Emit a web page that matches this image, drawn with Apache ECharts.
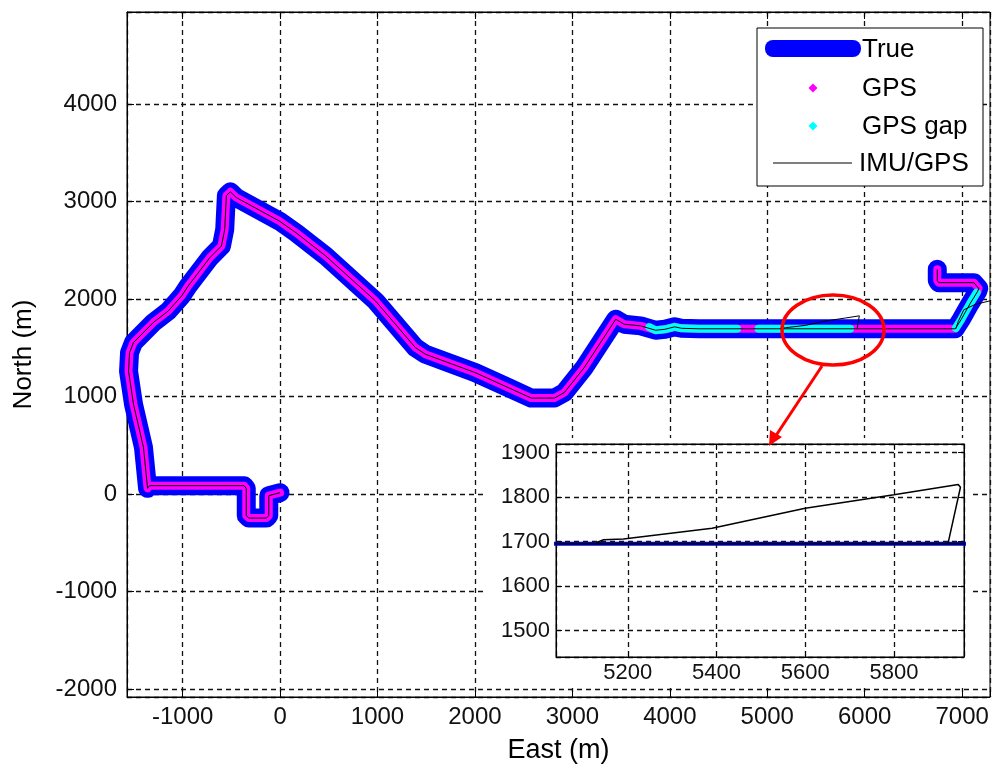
<!DOCTYPE html>
<html>
<head>
<meta charset="utf-8">
<script src="https://cdn.jsdelivr.net/npm/echarts@6/dist/echarts.min.js"></script>
<style>
  html, body { margin: 0; padding: 0; background: #fff; }
  #main { width: 993px; height: 769px; }
</style>
</head>
<body>
<div id="main"></div>
<script>
// true trajectory (m)
var trueEast = [0, -116, -116, -140, -320, -347, -347, -370, -1340, -1360, -1402, -1504, -1555, -1545, -1504, -1300, -1147, -1010, -943, -721, -602, -568, -551, -510, -449, -7, 163, 469, 980, 1388, 1490, 2000, 2340, 2578, 2816, 2918, 3122, 3445, 3531, 3701, 3854, 3950, 4050, 4120, 4300, 6930, 6990, 7080, 7160, 7170, 7120, 6760, 6745, 6745];
var trueNorth = [15, -15, -220, -245, -245, -220, 60, 87, 87, 60, 480, 920, 1260, 1450, 1554, 1760, 1878, 2032, 2134, 2424, 2543, 2714, 3060, 3099, 3040, 2799, 2680, 2441, 1980, 1503, 1435, 1247, 1093, 985, 985, 1042, 1298, 1793, 1742, 1725, 1680, 1690, 1715, 1700, 1695, 1695, 1790, 1950, 2080, 2110, 2168, 2168, 2190, 2305];

// GPS outage sections (null = break between sections)
var gapEast = [3790, 3854, 3950, 4050, 4120, 4300, 4690, null, 4910, 5850, null, 6935, 6990, 7080, 7150];
var gapNorth = [1712, 1680, 1690, 1715, 1700, 1695, 1695, null, 1695, 1695, null, 1703, 1790, 1950, 2065];

// IMU/GPS drift while GPS is missing
var driftEast = [5130, 5145, 5190, 5390, 5600, 5800, 5945, 5950, 5922, null, 6935, 6960, 7017, 7136, 7300];
var driftNorth = [1698, 1704, 1706, 1730, 1775, 1805, 1828, 1822, 1696, null, 1695, 1770, 1890, 1945, 1985];

var mainTicks = 1000;
var insetTicksX = 200;
var insetTicksY = 100;

function pairs(xs, ys) {
    return xs.map(function (x, i) {
        return x === null ? ['-', '-'] : [x, ys[i]];
    });
}
var route = pairs(trueEast, trueNorth);
var gaps = pairs(gapEast, gapNorth);
var drift = pairs(driftEast, driftNorth);

var FONT = 'Liberation Sans, Arial, sans-serif';

function tickFmt(step) {
    return function (v) { return Math.abs(v % step) < 1e-6 ? String(v) : ''; };
}

var dash = { color: '#111', type: [5, 4], width: 1.3 };
var axLine = { onZero: false, lineStyle: { color: '#000' } };

var myChart = echarts.init(document.getElementById('main'));
var option = {
    animation: false,
    grid: [
        { left: 127, top: 12, right: -2, bottom: 71, show: true, borderColor: '#000', borderWidth: 1, backgroundColor: '#fff' },
        { left: 556, top: 444, width: 408, height: 213, show: true, borderColor: '#000', borderWidth: 1, z: 5 }
    ],
    xAxis: [
        {
            type: 'value', gridIndex: 0, min: -1571, max: 7286, splitNumber: 9,
            name: 'East (m)', nameLocation: 'middle', nameGap: 40,
            nameTextStyle: { fontFamily: FONT, fontSize: 27, color: '#000' },
            axisLine: axLine,
            axisTick: { inside: true, length: 7, lineStyle: { color: '#000' } },
            axisLabel: { fontFamily: FONT, fontSize: 24, color: '#111', margin: 8, formatter: tickFmt(mainTicks) },
            splitLine: { show: true, lineStyle: dash }
        },
        {
            type: 'value', gridIndex: 0, position: 'top', min: -1571, max: 7286, splitNumber: 9,
            axisLine: axLine,
            axisTick: { inside: true, length: 7, lineStyle: { color: '#000' } },
            axisLabel: { show: false }, splitLine: { show: false }
        },
        {
            type: 'value', gridIndex: 1, min: 5038, max: 5958, splitNumber: 5, z: 5,
            axisLine: axLine,
            axisTick: { inside: true, length: 6, lineStyle: { color: '#000' } },
            axisLabel: { fontFamily: FONT, fontSize: 22, color: '#111', margin: 5, formatter: tickFmt(insetTicksX) },
            splitLine: { show: true, lineStyle: dash }
        },
        {
            type: 'value', gridIndex: 1, position: 'top', min: 5038, max: 5958, splitNumber: 5, z: 5,
            axisLine: axLine,
            axisTick: { inside: true, length: 6, lineStyle: { color: '#000' } },
            axisLabel: { show: false }, splitLine: { show: false }
        }
    ],
    yAxis: [
        {
            type: 'value', gridIndex: 0, min: -2079, max: 4942, splitNumber: 7,
            name: 'North (m)', nameLocation: 'middle', nameGap: 90,
            nameTextStyle: { fontFamily: FONT, fontSize: 26, color: '#000' },
            axisLine: axLine,
            axisTick: { inside: true, length: 7, lineStyle: { color: '#000' } },
            axisLabel: { fontFamily: FONT, fontSize: 24, color: '#111', margin: 10, formatter: tickFmt(mainTicks) },
            splitLine: { show: true, lineStyle: dash }
        },
        {
            type: 'value', gridIndex: 1, min: 1441, max: 1919, splitNumber: 5, z: 5,
            axisLine: axLine,
            axisTick: { inside: true, length: 6, lineStyle: { color: '#000' } },
            axisLabel: { fontFamily: FONT, fontSize: 22, color: '#111', margin: 6, formatter: tickFmt(insetTicksY) },
            splitLine: { show: true, lineStyle: dash }
        },
        {
            type: 'value', gridIndex: 1, position: 'right', min: 1441, max: 1919, splitNumber: 5, z: 5,
            axisLine: axLine,
            axisTick: { inside: true, length: 6, lineStyle: { color: '#000' } },
            axisLabel: { show: false }, splitLine: { show: false }
        }
    ],
    series: [
        // main plot
        { name: 'True', type: 'line', xAxisIndex: 0, yAxisIndex: 0, data: route, showSymbol: false, silent: true,
          lineStyle: { color: '#0000ff', width: 19, cap: 'round', join: 'round' } },
        { name: 'GPS', type: 'line', xAxisIndex: 0, yAxisIndex: 0, data: route, showSymbol: false, silent: true,
          lineStyle: { color: '#ff00ff', width: 8, cap: 'round', join: 'round' } },
        { name: 'GPS', type: 'scatter', xAxisIndex: 0, yAxisIndex: 0, data: [route[0]], symbolSize: 13, silent: true,
          itemStyle: { color: '#ff00ff' } },
        { name: 'GPS gap', type: 'line', xAxisIndex: 0, yAxisIndex: 0, data: gaps, showSymbol: false, silent: true,
          connectNulls: false, lineStyle: { color: '#00ffff', width: 8, cap: 'round', join: 'round' } },
        { name: 'IMU/GPS', type: 'line', xAxisIndex: 0, yAxisIndex: 0, data: route, showSymbol: false, silent: true,
          lineStyle: { color: '#000', width: 1 } },
        { name: 'IMU/GPS', type: 'line', xAxisIndex: 0, yAxisIndex: 0, data: drift, showSymbol: false, silent: true,
          connectNulls: false, lineStyle: { color: '#000', width: 1 } },
        // zoomed inset
        { name: 'True', type: 'line', xAxisIndex: 2, yAxisIndex: 1, data: route, showSymbol: false, silent: true, z: 6,
          lineStyle: { color: '#0000ff', width: 4 } },
        { name: 'IMU/GPS', type: 'line', xAxisIndex: 2, yAxisIndex: 1, data: route, showSymbol: false, silent: true, z: 6,
          lineStyle: { color: '#000', width: 2 } },
        { name: 'IMU/GPS', type: 'line', xAxisIndex: 2, yAxisIndex: 1, data: drift, showSymbol: false, silent: true, z: 6,
          connectNulls: false, lineStyle: { color: '#000', width: 1.5 } }
    ],
    graphic: [
        // white backdrop behind the inset axes
        { type: 'rect', z: 4, silent: true, shape: { x: 484, y: 438, width: 488, height: 250 }, style: { fill: '#fff' } },
        // legend box
        { type: 'rect', z: 10, shape: { x: 757, y: 28, width: 226, height: 158 }, style: { fill: '#fff', stroke: '#000', lineWidth: 1 } },
        { type: 'rect', z: 11, shape: { x: 765, y: 40, width: 96, height: 17, r: 8 }, style: { fill: '#0000ff' } },
        { type: 'text', z: 11, x: 862, y: 50, style: { text: 'True', font: '26px ' + FONT, fill: '#000', verticalAlign: 'middle' } },
        { type: 'polygon', z: 11, shape: { points: [[813, 83.5], [817.5, 88], [813, 92.5], [808.5, 88]] }, style: { fill: '#ff00ff' } },
        { type: 'text', z: 11, x: 862, y: 89, style: { text: 'GPS', font: '26px ' + FONT, fill: '#000', verticalAlign: 'middle' } },
        { type: 'polygon', z: 11, shape: { points: [[813, 121.5], [817.5, 126], [813, 130.5], [808.5, 126]] }, style: { fill: '#00ffff' } },
        { type: 'text', z: 11, x: 862, y: 127, style: { text: 'GPS gap', font: '26px ' + FONT, fill: '#000', verticalAlign: 'middle' } },
        { type: 'line', z: 11, shape: { x1: 773, y1: 163, x2: 852, y2: 163 }, style: { stroke: '#000', lineWidth: 1.2 } },
        { type: 'text', z: 11, x: 859, y: 164, style: { text: 'IMU/GPS', font: '26px ' + FONT, fill: '#000', verticalAlign: 'middle' } },
        // red highlight and arrow
        { type: 'ellipse', z: 12, shape: { cx: 833, cy: 330, rx: 51, ry: 35 }, style: { fill: 'none', stroke: '#ff0000', lineWidth: 3.5 } },
        { type: 'line', z: 12, shape: { x1: 822, y1: 366, x2: 775, y2: 437 }, style: { stroke: '#ff0000', lineWidth: 3 } },
        { type: 'polygon', z: 12, shape: { points: [[769, 446], [782, 437], [770, 430]] }, style: { fill: '#ff0000' } }
    ]
};
myChart.setOption(option);
</script>
</body>
</html>
